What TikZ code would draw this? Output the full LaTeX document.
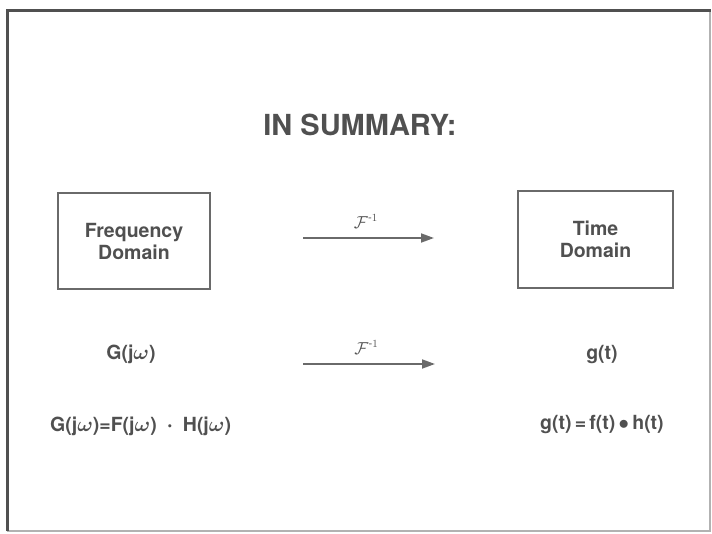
\documentclass[tikz,border=0pt]{standalone}
\usepackage{amsmath}
\usepackage{fontspec}
\setmainfont{TeX Gyre Heros}
\usetikzlibrary{arrows.meta}
\definecolor{ink}{HTML}{505050}
\definecolor{rule}{HTML}{6A6A6A}
\newcommand{\om}{$\boldsymbol{\omega}$}
\tikzset{
  x=1pt, y=-1pt,
  domainbox/.style={draw=rule, line width=2pt, minimum width=152pt, minimum height=96pt,
    align=center, text=ink, font=\fontsize{19.5}{22}\selectfont\bfseries},
  plain/.style={text=ink, font=\fontsize{19.5}{22}\selectfont\bfseries, inner sep=0pt},
  flow/.style={draw=rule, line width=1.8pt, -{Triangle[length=13pt,width=9pt]}},
  flabel/.style={text=ink, font=\fontsize{16}{18}\selectfont, inner sep=0pt}
}
\begin{document}
\begin{tikzpicture}
\useasboundingbox (0,0) rectangle (712,534);
% frame
\draw[draw=black!30, line width=1.2pt] (710,11) -- (710,531) -- (7,531);
\draw[draw=ink, line width=3pt] (7,531) -- (7,11) -- (711,11);
% title
\node[text=ink, font=\fontsize{29}{34}\selectfont\bfseries, inner sep=0pt] (title) at (360,125) {IN SUMMARY:};
% boxes
\node[domainbox] (freq) at (134,241) {Frequency\\Domain};
\node[domainbox, minimum width=155pt, minimum height=97pt] (time) at (595.5,239.5) {Time\\Domain};
% arrow 1
\coordinate (a1s) at (303,238);
\coordinate (a1e) at (434,238);
\draw[flow] (a1s) -- (a1e) node[flabel, pos=0.48, above=9pt] {$\mathcal{F}^{\text{-}1}$};
% row 2
\node[plain] (G) at (131,354) {G(j\om)};
\node[plain] (g) at (602,355) {g(t)};
\coordinate (a2s) at (303,364);
\coordinate (a2e) at (435,364);
\draw[flow] (a2s) -- (a2e) node[flabel, pos=0.48, above=9pt] {$\mathcal{F}^{\text{-}1}$};
% row 3
\node[plain, anchor=west] (Geq) at (50,426) {G(j\om)=F(j\om)\enspace$\boldsymbol{\cdot}$\enspace H(j\om)};
\node[plain, anchor=west] (geq) at (540,425) {g(t)\,=\,f(t)\,$\bullet$\,h(t)};
\end{tikzpicture}
\end{document}
